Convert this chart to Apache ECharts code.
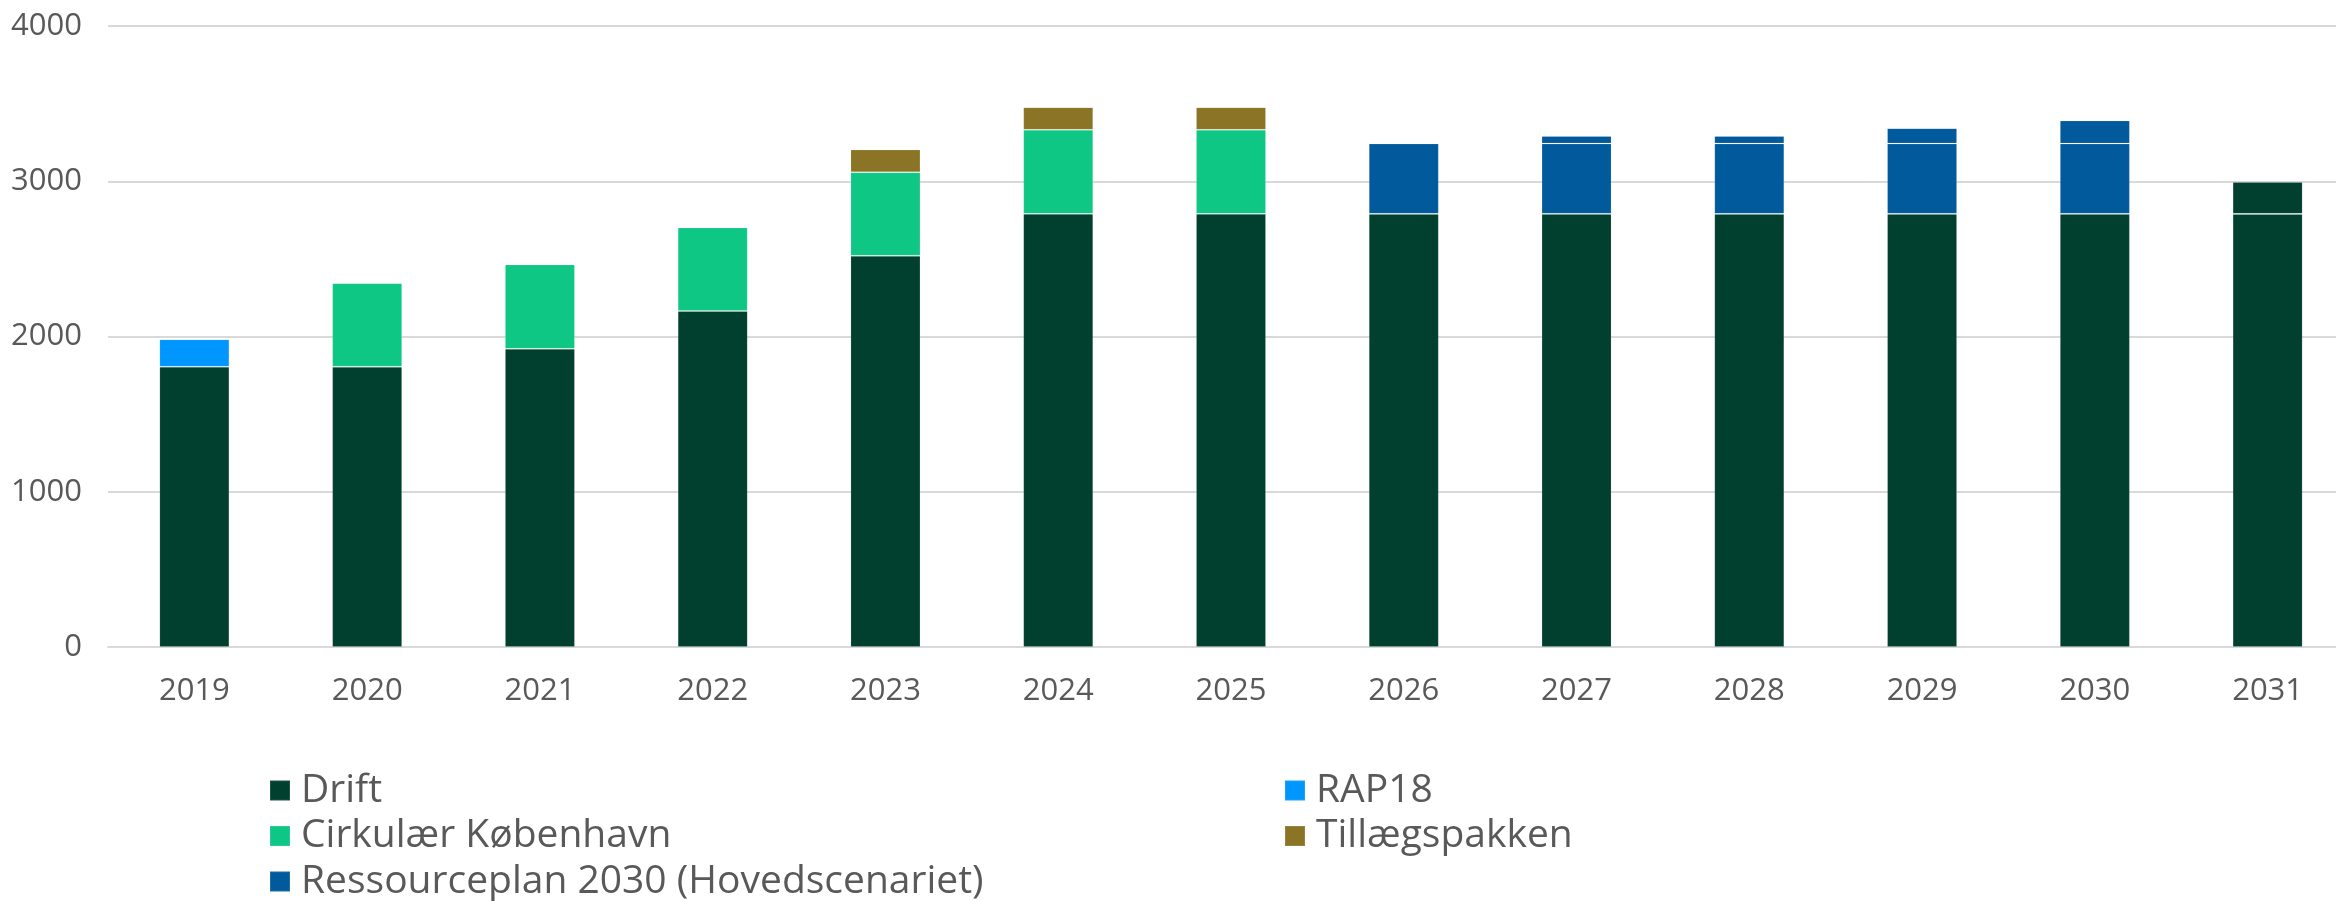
<!DOCTYPE html>
<html>
<head>
<meta charset="utf-8">
<script src="https://cdn.jsdelivr.net/npm/echarts@6/dist/echarts.min.js"></script>
<style>
  html, body { margin: 0; padding: 0; background: #fff; }
  #chart { width: 2336px; height: 901px; }
</style>
</head>
<body>
<div id="chart"></div>
<script>
  const years = ['2019', '2020', '2021', '2022', '2023', '2024', '2025', '2026', '2027', '2028', '2029', '2030', '2031'];
  const drift = [1805, 1805, 1921, 2165, 2520, 2790, 2790, 2790, 2790, 2790, 2790, 2790, 2790];
  const rap18 = [178, 0, 0, 0, 0, 0, 0, 0, 0, 0, 0, 0, 0];
  const cirkulaer = [0, 539, 543, 537, 538, 541, 541, 0, 0, 0, 0, 0, 0];
  const tillaeg = [0, 0, 0, 0, 147, 146, 146, 0, 0, 0, 0, 0, 0];
  const ressourceplan = [0, 0, 0, 0, 0, 0, 0, 453, 453, 453, 453, 453, 0];
  // ekstra top-segmenter (samme farve som søjlen under, ikke i legenden)
  const ressourceplanEkstra = [0, 0, 0, 0, 0, 0, 0, 0, 49, 49, 99, 148, 0];
  const drift2031Ekstra = [0, 0, 0, 0, 0, 0, 0, 0, 0, 0, 0, 0, 205];
  const yTicks = [0, 1000, 2000, 3000, 4000];

  const FONT = '"Open Sans", sans-serif';
  const TXT = '#595959';
  const edge = { borderColor: 'rgba(255,255,255,0.12)', borderWidth: 1 };

  const bar = (name, data, color) => ({
    name, type: 'bar', stack: 'total', data, barWidth: 70,
    itemStyle: Object.assign({ color }, edge),
  });

  const legendText = { color: TXT, fontSize: 39, fontWeight: 500, fontFamily: FONT, lineHeight: 38, padding: [0, 0, 0, 6] };

  const chart = echarts.init(document.getElementById('chart'));
  chart.setOption({
    animation: false,
    textStyle: { fontFamily: FONT },
    grid: { left: 108, right: -18, top: 26, bottom: 254, outerBoundsMode: 'none' },
    legend: [
      {
        orient: 'vertical', left: 269, top: 771, height: 140, padding: 0, itemGap: 6.5,
        itemWidth: 20, itemHeight: 20, icon: 'rect',
        data: ['Drift', 'Cirkulær København', 'Ressourceplan 2030 (Hovedscenariet)'],
        textStyle: legendText,
      },
      {
        orient: 'vertical', left: 1284, top: 771, height: 140, padding: 0, itemGap: 6.5,
        itemWidth: 20, itemHeight: 20, icon: 'rect',
        data: ['RAP18', 'Tillægspakken'],
        textStyle: legendText,
      },
    ],
    xAxis: {
      type: 'category', data: years,
      axisLine: { lineStyle: { color: '#d9d9d9', width: 2 } },
      axisTick: { show: false },
      axisLabel: { color: TXT, fontSize: 31, fontWeight: 500, fontFamily: FONT, margin: 29 },
    },
    yAxis: {
      type: 'value', min: yTicks[0], max: yTicks[yTicks.length - 1], interval: 1000,
      axisLine: { show: false }, axisTick: { show: false },
      splitLine: { lineStyle: { color: '#d9d9d9', width: 2 } },
      axisLabel: { color: TXT, fontSize: 31, fontWeight: 500, fontFamily: FONT, margin: 26, formatter: v => String(v) },
    },
    series: [
      bar('Drift', drift, '#013f2f'),
      bar('RAP18', rap18, '#0096ff'),
      bar('Cirkulær København', cirkulaer, '#0fc784'),
      bar('Tillægspakken', tillaeg, '#8b7425'),
      bar('Ressourceplan 2030 (Hovedscenariet)', ressourceplan, '#005a9c'),
      bar('Ressourceplan ekstra', ressourceplanEkstra, '#005a9c'),
      bar('Drift ekstra', drift2031Ekstra, '#013f2f'),
    ],
  });
  window.addEventListener('resize', () => chart.resize());
</script>
</body>
</html>
